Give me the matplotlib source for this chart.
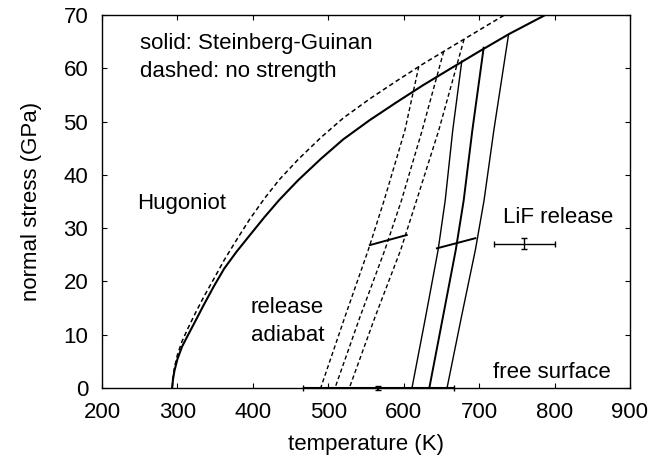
import matplotlib
matplotlib.use("Agg")
import matplotlib.pyplot as plt

plt.rcParams["font.family"] = ["Liberation Sans", "DejaVu Sans"]

# Hugoniot curves (temperature K, normal stress GPa)
hug_solid_T = [293, 294, 296, 300, 306, 314, 324, 335, 348, 362, 378, 395, 415, 435,
               460, 490, 520, 555, 590, 625, 660, 700, 740, 787]
hug_solid_P = [0, 1.5, 3.2, 5.4, 7.7, 9.9, 12.6, 15.6, 19.0, 22.4, 25.5, 28.5, 32.0, 35.3,
               39.0, 43.0, 46.7, 50.3, 53.6, 56.8, 59.8, 63.2, 66.5, 70]
hug_dash_T = [293, 294, 296, 300, 306, 314, 324, 335, 348, 362, 378, 395, 415, 435,
              460, 490, 520, 555, 590, 625, 660, 700, 733]
hug_dash_P = [0, 1.8, 3.8, 6.2, 8.7, 11.2, 14.1, 17.1, 20.4, 24.0, 27.7, 31.5, 35.5, 39.1,
              42.9, 47.0, 50.7, 54.3, 57.6, 60.8, 63.8, 67.2, 70]

# release adiabats
rel_P_lvls = [48.4, 35.2, 25.9, 13.3, 0]
rel_solid_top = [(677, 61.4), (706, 63.9), (739, 66.4)]
rel_solid_T = [
    [665, 655, 645.6, 629, 611],
    [691, 679.5, 669, 652, 634],
    [719.5, 706.5, 695, 676.5, 657.5],
]
rel_dash_top = [(620, 60.4), (653, 63.2), (680, 65.5)]
rel_dash_T = [
    [601.6, 574, 553, 522, 490],
    [624.5, 597, 575, 542, 509],
    [646.5, 617, 596, 562, 528],
]

# short segments crossing the release adiabats
seg_T = [[555, 604], [644, 695]]
seg_P = [[26.8, 28.7], [26.2, 28.1]]

# measurements
lif_T, lif_P, lif_Terr, lif_Perr = 760, 27.1, 40, 1.0
fs_T, fs_P, fs_Terr, fs_Perr = 566, 0, 100, 0.4

fig = plt.figure(figsize=(6.67, 4.57), dpi=100)
ax = fig.add_axes([0.153, 0.1516, 0.7915, 0.815])

dash = (0, (3, 2))
ax.plot(hug_solid_T, hug_solid_P, color="black", lw=1.5)
ax.plot(hug_dash_T, hug_dash_P, color="black", lw=1.1, linestyle=dash)

for i, (top, Ts) in enumerate(zip(rel_solid_top, rel_solid_T)):
    lw = 1.4 if i == 1 else 1.0
    ax.plot([top[0]] + Ts, [top[1]] + rel_P_lvls, color="black", lw=lw)
for top, Ts in zip(rel_dash_top, rel_dash_T):
    ax.plot([top[0]] + Ts, [top[1]] + rel_P_lvls, color="black", lw=1.0, linestyle=dash)

for Ts, Ps in zip(seg_T, seg_P):
    ax.plot(Ts, Ps, color="black", lw=1.4)

ax.errorbar(lif_T, lif_P, xerr=lif_Terr, yerr=lif_Perr, color="black",
            lw=1.0, capsize=2.5, capthick=1.0, fmt="none")
ax.errorbar(fs_T, fs_P, xerr=fs_Terr, yerr=fs_Perr, color="black",
            lw=1.5, capsize=2.5, capthick=1.0, fmt="none", clip_on=False)

fs = 16
ax.text(250, 64.6, "solid: Steinberg-Guinan", fontsize=fs, va="center")
ax.text(250, 59.4, "dashed: no strength", fontsize=fs, va="center")
ax.text(247, 34.6, "Hugoniot", fontsize=fs, va="center")
ax.text(397, 15.0, "release", fontsize=fs, va="center")
ax.text(397, 9.9, "adiabat", fontsize=fs, va="center")
ax.text(731, 31.9, "LiF release", fontsize=fs, va="center")
ax.text(718, 2.9, "free surface", fontsize=fs, va="center")

ax.set_xlim(200, 900)
ax.set_ylim(0, 70)
ax.set_xticks(range(200, 901, 100))
ax.set_yticks(range(0, 71, 10))
ax.tick_params(direction="in", top=True, right=True, length=3.6, width=0.8,
               labelsize=fs, pad=10)
for sp in ax.spines.values():
    sp.set_linewidth(1.0)

ax.set_xlabel("temperature (K)", fontsize=fs, labelpad=8)
ax.set_ylabel("normal stress (GPa)", fontsize=fs, labelpad=15)

fig.savefig("out.png", dpi=100)
